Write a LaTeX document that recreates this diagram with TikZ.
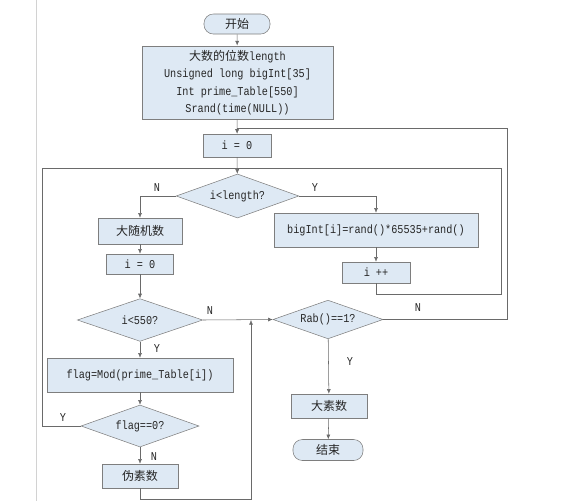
\documentclass[tikz,border=0pt]{standalone}
\usepackage{fontspec}
\setmonofont[FakeStretch=0.85]{Liberation Mono}
\newfontfamily\cjk{Noto Sans CJK SC}
\usepackage{xcolor}
\usepackage{tikz}
\usetikzlibrary{shapes, arrows.meta, positioning}
\definecolor{cajaazul}{HTML}{DEE9F4}
\definecolor{bordegris}{HTML}{7E7E7E}
\definecolor{lineagris}{HTML}{6A6A6A}
\tikzset{
    caja/.style={draw=bordegris, fill=cajaazul, inner sep=1pt, align=center},
    terminal/.style={caja, rounded corners=7pt},
    rombo/.style={draw=bordegris, fill=cajaazul, diamond, aspect=3, inner sep=0pt},
    flecha/.style={draw=lineagris, -{Latex[length=3.5pt,width=3pt]}},
    linea/.style={draw=lineagris},
    etiq/.style={font=\ttfamily\fontsize{9}{11}\selectfont, text=black!85}
}
\begin{document}
\begin{tikzpicture}[x=0.75pt, y=-0.75pt,
    every node/.style={font=\ttfamily\fontsize{9}{13}\selectfont, text=black!85}]
    \useasboundingbox (0,0) rectangle (576,501);
    % Borde de la pagina
    \draw[gray!35] (36,0) -- (36,501);
    % Columna central
    \node[terminal, minimum width=49.5pt, minimum height=15pt] (inicio) at (237,24) {{\cjk 开始}};
    \node[caja, minimum width=143pt, minimum height=55pt] (datos) at (237.5,82.5)
        {{\cjk 大数的位数}length\\Unsigned long bigInt[35]\\Int prime\_Table[550]\\Srand(time(NULL))};
    \node[caja, minimum width=51pt, minimum height=17pt] (icero) at (237,145.5) {i = 0};
    \node[rombo, minimum width=92pt, minimum height=33pt] (ilen) at (237.5,196) {i<length?};
    % Rama derecha
    \node[caja, minimum width=153pt, minimum height=25.5pt] (bigint) at (376,230) {bigInt[i]=rand()*65535+rand()};
    \node[caja, minimum width=51pt, minimum height=15.75pt] (imas) at (376,272.5) {i ++};
    % Rama izquierda
    \node[caja, minimum width=63pt, minimum height=19.5pt] (aleat) at (140,231) {{\cjk 大随机数}};
    \node[caja, minimum width=50pt, minimum height=15pt] (icerob) at (140,264) {i = 0};
    \node[rombo, minimum width=94pt, minimum height=32pt] (imenor) at (140,320) {i<550?};
    \node[caja, minimum width=139.5pt, minimum height=25.5pt] (bandera) at (140,375) {flag=Mod(prime\_Table[i])};
    \node[rombo, minimum width=88.5pt, minimum height=31.5pt] (bcero) at (140,426) {flag==0?};
    \node[caja, minimum width=57pt, minimum height=18pt] (pseudo) at (140,476) {{\cjk 伪素数}};
    % Prueba final
    \node[rombo, minimum width=82.5pt, minimum height=29pt] (rab) at (328,319.5) {Rab()==1?};
    \node[caja, minimum width=57pt, minimum height=18pt] (primo) at (329,406) {{\cjk 大素数}};
    \node[terminal, minimum width=52.5pt, minimum height=15.75pt] (fin) at (328,450) {{\cjk 结束}};
    % Puntos de union
    \coordinate (u1) at (237,128);
    \coordinate (u2) at (237,168);
    \coordinate (u3) at (251,320);
    % Conectores
    \draw[flecha] (inicio) -- (datos);
    \draw[flecha] (datos) -- (icero);
    \draw[flecha] (icero) -- (ilen);
    \draw[flecha] (ilen.west) -| (aleat.north);
    \draw[flecha] (ilen.east) -| (bigint.north);
    \draw[flecha] (bigint) -- (imas);
    \draw[linea] (imas.south) |- (501,294) |- (u2);
    \draw[flecha] (aleat) -- (icerob);
    \draw[flecha] (icerob) -- (imenor);
    \draw[flecha] (imenor) -- (bandera);
    \draw[flecha] (bandera) -- (bcero);
    \draw[flecha] (bcero) -- (pseudo);
    \draw[linea] (bcero.west) -| (42,168) -- (u2);
    \draw[flecha] (pseudo.south) |- (251,499) -- (u3);
    \draw[flecha] (imenor.east) -- (rab.west);
    \draw[linea] (rab.east) -| (507,128) -- (u1);
    \draw[flecha] (rab) -- (primo);
    \draw[flecha] (primo) -- (fin);
    % Etiquetas
    \node[etiq] at (157,188) {N};
    \node[etiq] at (315,188) {Y};
    \node[etiq] at (210,311) {N};
    \node[etiq] at (157,349) {Y};
    \node[etiq] at (63,418) {Y};
    \node[etiq, fill=white, inner sep=1pt] at (154,457) {N};
    \node[etiq] at (350,362) {Y};
    \node[etiq] at (418,308) {N};
\end{tikzpicture}
\end{document}
